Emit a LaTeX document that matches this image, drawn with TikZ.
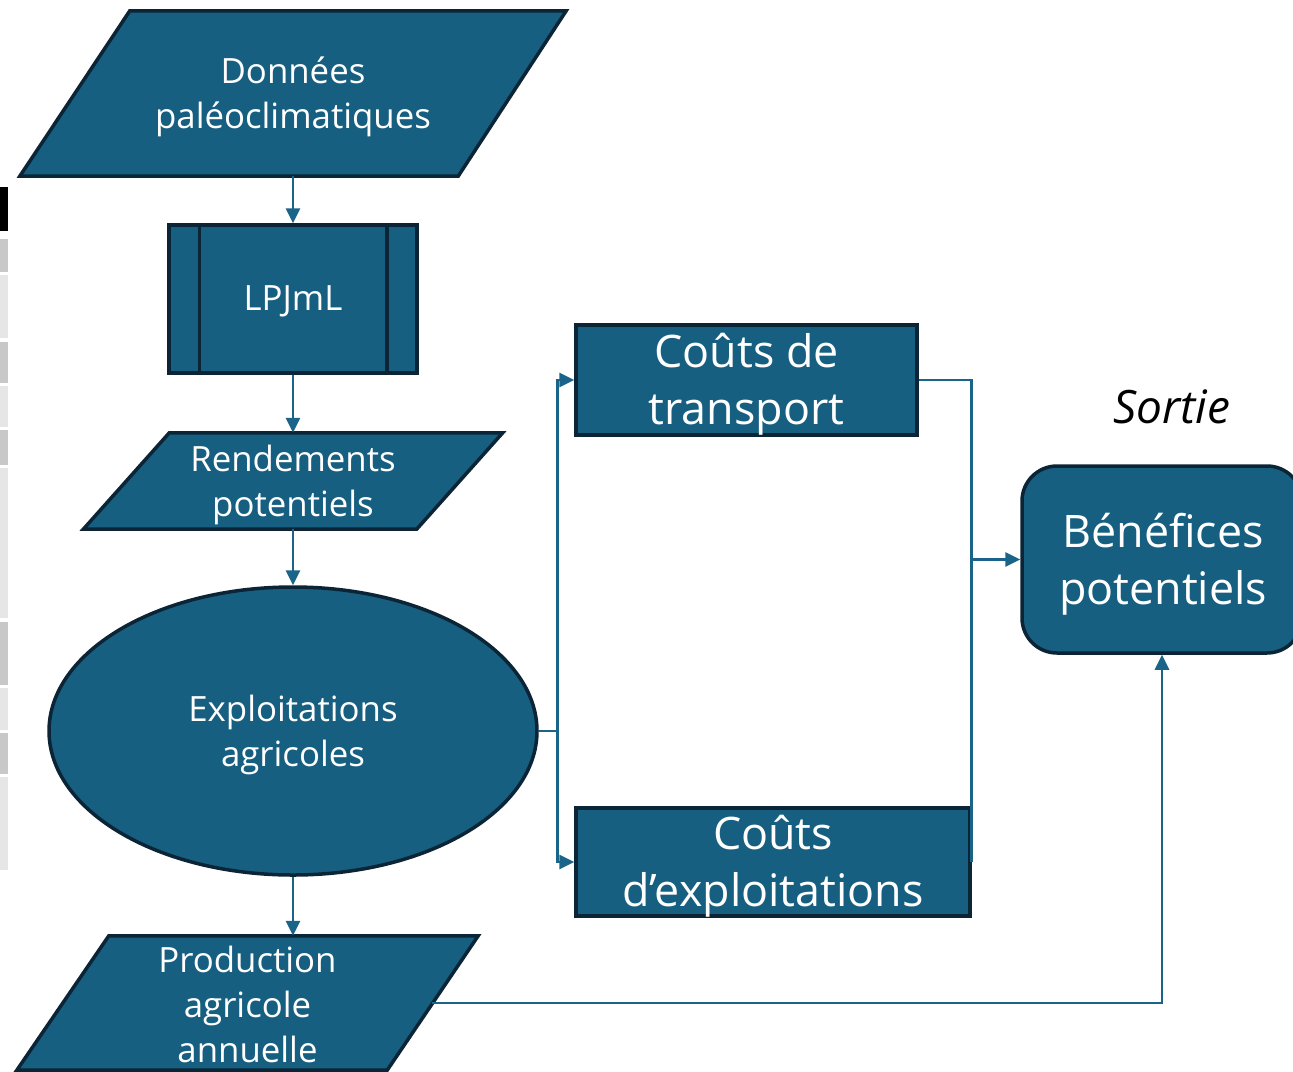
\documentclass[tikz,border=0pt]{standalone}
\usepackage{fontspec}
\setmainfont{Open Sans}
\usetikzlibrary{shapes.geometric,arrows.meta,calc,backgrounds}
\definecolor{fillb}{HTML}{175F80}
\definecolor{edgeb}{HTML}{0B2536}
\definecolor{lineb}{HTML}{1B6489}
\definecolor{gdark}{HTML}{C8C8C8}
\definecolor{glight}{HTML}{E6E6E6}
\begin{document}
\begin{tikzpicture}[x=1pt,y=-1pt,
  shp/.style={fill=fillb,draw=edgeb,line width=3.5pt},
  frame/.style={rectangle,inner sep=0pt},
  txt/.style={inner sep=0pt,align=center,text=white},
  small/.style={font=\fontsize{34.8}{45}\selectfont},
  big/.style={font=\fontsize{44.8}{57}\selectfont},
  conn/.style={draw=lineb,line width=2.8pt,-{Triangle[length=15pt,width=14pt]}},
  plain/.style={draw=lineb,line width=2.8pt}
]
\useasboundingbox (0,0) rectangle (1293,1071);

% left strip
\fill[black] (0,187) rectangle (8,231);
\fill[gdark] (0,239) rectangle (8,272);
\fill[glight] (0,275) rectangle (8,338);
\fill[gdark] (0,342) rectangle (8,383);
\fill[glight] (0,386) rectangle (8,427);
\fill[gdark] (0,430) rectangle (8,465);
\fill[glight] (0,468) rectangle (8,618);
\fill[gdark] (0,622) rectangle (8,685);
\fill[glight] (0,688) rectangle (8,730);
\fill[gdark] (0,733) rectangle (8,774);
\fill[glight] (0,777) rectangle (8,870);

% shapes
\node[frame,minimum width=546pt,minimum height=165pt] (don) at (293,93.5) {};
\node[frame,shp,minimum width=248pt,minimum height=148pt] (lpj) at (293,299) {};
\draw[edgeb,line width=3.5pt] ($(lpj.north west)+(32,0)$) -- ($(lpj.south west)+(32,0)$);
\draw[edgeb,line width=3.5pt] ($(lpj.north east)-(32,0)$) -- ($(lpj.south east)-(32,0)$);
\node[frame,minimum width=419pt,minimum height=96pt] (ren) at (293,481) {};
\node[shp,ellipse,inner sep=0pt,minimum width=488pt,minimum height=288pt] (exp) at (293,731) {};
\node[frame,minimum width=461pt,minimum height=134pt] (prod) at (247.5,1003) {};
\node[frame,shp,minimum width=341pt,minimum height=110pt] (ct) at (746.5,380) {};
\node[frame,shp,minimum width=394pt,minimum height=108pt] (ce) at (773,862) {};
\node[frame,shp,rounded corners=35pt,minimum width=280pt,minimum height=187pt] (ben) at (1162,559.5) {};

\begin{scope}[on background layer]
\draw[shp] ($(don.north west)+(110,0)$) -- (don.north east) -- ($(don.south east)-(108,0)$) -- (don.south west) -- cycle;
\draw[shp] ($(ren.north west)+(86,0)$) -- (ren.north east) -- ($(ren.south east)-(86,0)$) -- (ren.south west) -- cycle;
\draw[shp] ($(prod.north west)+(92,0)$) -- (prod.north east) -- ($(prod.south east)-(91,0)$) -- (prod.south west) -- cycle;
\end{scope}

% texts
\node[txt,small] (donT) at ($(don)+(0,3)$) {Données\\paléoclimatiques};
\node[txt,small] (lpjT) at ($(lpj)+(0,2)$) {LPJmL};
\node[txt,small] (renT) at ($(ren)+(0,4)$) {Rendements\\potentiels};
\node[txt,small] (expT) at ($(exp)+(0,4)$) {Exploitations\\agricoles};
\node[txt,small] (prodT) at ($(prod)+(0,1.5)$) {Production\\agricole\\annuelle};
\node[txt,big] (ctT) at ($(ct)+(0,4)$) {Coûts de\\transport};
\node[txt,big] (ceT) at ($(ce)+(0,4)$) {Coûts\\d’exploitations};
\node[txt,big] (benT) at ($(ben)+(1,5)$) {Bénéfices\\potentiels};
\node[inner sep=0pt,font=\fontsize{46}{52}\selectfont\itshape] (sortie) at (1172,407) {Sortie};

% connectors
\draw[conn] (don.south) -- (lpj.north);
\draw[conn] (lpj.south) -- (ren.north);
\draw[conn] (ren.south) -- (exp.north);
\draw[conn] (exp.south) -- (exp.south |- prod.north);
\coordinate (split) at ($(exp.east)+(19,0)$);
\draw[plain] (exp.east) -- (split);
\draw[conn] (split) |- (ct.west);
\draw[conn] (split) |- (ce.west);
\draw[plain] (ct.east) -| (ce.east);
\coordinate (join) at (ce.east |- ben.west);
\draw[conn] (join) -- (ben.west);
\coordinate (prodE) at ($(prod.east)-(46,0)$);
\draw[conn] (prodE) -| (ben.south);
\end{tikzpicture}
\end{document}
